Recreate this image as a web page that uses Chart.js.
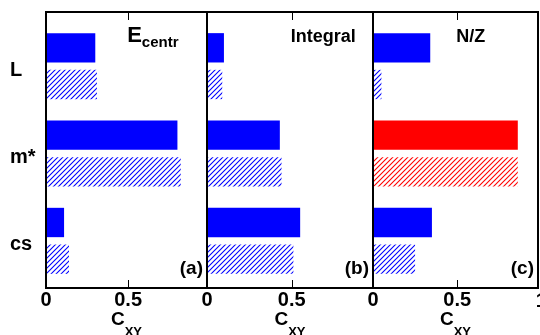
<!DOCTYPE html>
<html>
<head>
<meta charset="utf-8">
<script src="https://cdn.jsdelivr.net/npm/chart.js@4.4.0/dist/chart.umd.min.js"></script>
<style>
  html, body { margin: 0; padding: 0; background: #fff; }
  #wrap { position: relative; width: 540px; height: 335px; overflow: hidden; }
  #wrap canvas { position: absolute; left: 0; top: 0; }
</style>
</head>
<body>
<div id="wrap">
  <canvas id="panelA" width="540" height="335"></canvas>
  <canvas id="panelB" width="540" height="335"></canvas>
  <canvas id="panelC" width="540" height="335"></canvas>
</div>
<script>
// categories (top to bottom) and x tick values
const categories = ['L', 'm*', 'cs'];
const xTicks = [0, 0.5];

// C_XY values, solid bar and hatched bar for each panel
const ecentrFull = [0.30, 0.80, 0.11];
const ecentrHatch = [0.31, 0.82, 0.14];
const integralFull = [0.10, 0.43, 0.55];
const integralHatch = [0.09, 0.44, 0.51];
const nzFull = [0.34, 0.86, 0.35];
const nzHatch = [0.05, 0.86, 0.25];

// bar colours per category
const blueColors = ['#0000ff', '#0000ff', '#0000ff'];
const nzColors = ['#0000ff', '#ff0000', '#0000ff'];

const FAM = '"Liberation Sans", Arial, Helvetica, sans-serif';
Chart.defaults.font.family = FAM;
Chart.defaults.font.weight = 'bold';
Chart.defaults.color = '#000';

function hatch(ctx, color) {
    const s = 5;
    const c = document.createElement('canvas');
    c.width = s; c.height = s;
    const g = c.getContext('2d');
    g.strokeStyle = color;
    g.lineWidth = 1.1;
    g.beginPath();
    g.moveTo(0, s); g.lineTo(s, 0);
    g.moveTo(-1, 1); g.lineTo(1, -1);
    g.moveTo(s - 1, s + 1); g.lineTo(s + 1, s - 1);
    g.stroke();
    return ctx.createPattern(c, 'repeat');
}

// frame, inward ticks and panel texts
const panelText = {
    id: 'panelText',
    afterDraw(chart, args, o) {
        const ctx = chart.ctx;
        const a = chart.chartArea;
        const x = chart.scales.x;
        ctx.save();
        ctx.strokeStyle = '#000';
        ctx.lineWidth = 1;
        xTicks.forEach(v => {
            const px = Math.round(x.getPixelForValue(v)) + 0.5;
            ctx.beginPath();
            ctx.moveTo(px, a.top); ctx.lineTo(px, a.top + 8);
            ctx.moveTo(px, a.bottom); ctx.lineTo(px, a.bottom - 8);
            ctx.stroke();
        });
        ctx.lineWidth = 2;
        ctx.strokeRect(a.left, a.top, a.right - a.left, a.bottom - a.top);

        ctx.fillStyle = '#000';
        ctx.textBaseline = 'alphabetic';
        ctx.textAlign = 'left';
        let tx = x.getPixelForValue(0.5) - 1;
        ctx.font = 'bold ' + o.titleSize + 'px ' + FAM;
        ctx.fillText(o.title, tx, a.top + 30);
        if (o.sub) {
            tx += ctx.measureText(o.title).width;
            ctx.font = 'bold 15px ' + FAM;
            ctx.fillText(o.sub, tx, a.top + 35);
        }

        ctx.textAlign = 'right';
        ctx.font = 'bold 19px ' + FAM;
        ctx.fillText(o.tag, a.right - 4, a.bottom - 14);

        // axis title C_XY
        ctx.textAlign = 'left';
        ctx.font = 'bold 19px ' + FAM;
        const wC = ctx.measureText('C').width;
        ctx.font = 'bold 13px ' + FAM;
        const wXY = ctx.measureText('XY').width;
        const start = (a.left + a.right) / 2 - (wC + wXY) / 2;
        ctx.font = 'bold 19px ' + FAM;
        ctx.fillText('C', start, a.bottom + 37);
        ctx.font = 'bold 13px ' + FAM;
        ctx.fillText('XY', start + wC, a.bottom + 48);

        if (o.extra != null) {
            ctx.textAlign = 'center';
            ctx.font = 'bold 20px ' + FAM;
            ctx.fillText(String(o.extra), x.getPixelForValue(o.extra), a.bottom + 19);
        }
        ctx.restore();
    }
};

function makePanel(id, full, hatched, colors, pad, showLabels, texts) {
    const ctx = document.getElementById(id).getContext('2d');
    return new Chart(ctx, {
        type: 'bar',
        data: {
            datasets: [
                {
                    data: full.map((v, i) => ({ x: v, y: i })),
                    backgroundColor: colors,
                    borderWidth: 0
                },
                {
                    data: hatched.map((v, i) => ({ x: v, y: i })),
                    backgroundColor: colors.map(c => hatch(ctx, c)),
                    borderWidth: 0
                }
            ]
        },
        options: {
            indexAxis: 'y',
            responsive: false,
            animation: false,
            events: [],
            categoryPercentage: 0.84,
            barPercentage: 0.8,
            layout: { padding: pad },
            scales: {
                x: {
                    type: 'linear',
                    min: 0,
                    max: 0.98,
                    afterBuildTicks: s => { s.ticks = xTicks.map(v => ({ value: v })); },
                    afterFit: s => { s.height = 47; },
                    grid: { display: false, drawTicks: false },
                    border: { display: false },
                    ticks: {
                        padding: 0,
                        maxRotation: 0,
                        font: { size: 20, weight: 'bold' },
                        callback: v => String(v)
                    }
                },
                y: {
                    type: 'linear',
                    reverse: true,
                    offset: false,
                    min: -0.62,
                    max: 2.54,
                    display: showLabels,
                    afterBuildTicks: s => { s.ticks = categories.map((c, i) => ({ value: i })); },
                    afterFit: s => { if (showLabels) s.width = 36; },
                    grid: { display: false, drawTicks: false, offset: false },
                    border: { display: false },
                    ticks: {
                        padding: 0,
                        crossAlign: 'far',
                        labelOffset: 4,
                        font: { size: 20, weight: 'bold' },
                        callback: v => categories[v]
                    }
                }
            },
            plugins: {
                legend: { display: false },
                tooltip: { enabled: false },
                panelText: texts
            }
        },
        plugins: [panelText]
    });
}

makePanel('panelA', ecentrFull, ecentrHatch, blueColors,
    { left: 10, right: 333, top: 12, bottom: 0 }, true,
    { title: 'E', sub: 'centr', titleSize: 22, tag: '(a)' });
makePanel('panelB', integralFull, integralHatch, blueColors,
    { left: 207, right: 167, top: 12, bottom: 0 }, false,
    { title: 'Integral', titleSize: 18, tag: '(b)' });
makePanel('panelC', nzFull, nzHatch, nzColors,
    { left: 373, right: 2, top: 12, bottom: 0 }, false,
    { title: 'N/Z', titleSize: 18, tag: '(c)', extra: 1 });
</script>
</body>
</html>
